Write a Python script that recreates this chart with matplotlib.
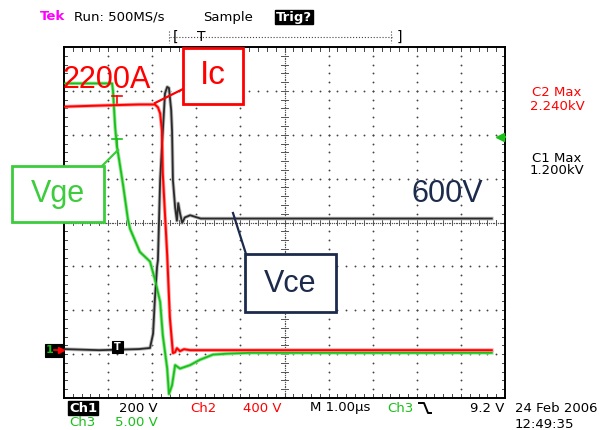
import numpy as np
import matplotlib
matplotlib.use('Agg')
import matplotlib.pyplot as plt
from matplotlib.lines import Line2D
from matplotlib.patches import Rectangle
from matplotlib.transforms import Affine2D

# Scope settings (per division)
vce_scale = 200.0   # Ch1, V/div
ic_scale = 400.0    # Ch2, V/div
vge_scale = 5.0     # Ch3, V/div
ground_div = 1.09   # common ground marker, divisions from bottom

# Ch1: Vce, time in us (1.00 us/div)
t_vce = [0, 0.8, 1.7, 1.95, 2.02, 2.06, 2.11, 2.13, 2.18, 2.22, 2.29, 2.34, 2.38,
         2.43, 2.45, 2.47, 2.52, 2.56, 2.59, 2.63, 2.68, 2.74, 2.86, 3.1, 9.7]
vce = [5, 0, 5, 10, 75, 230, 380, 410, 775, 925, 1170, 1200, 1195,
       1095, 1000, 775, 650, 590, 670, 625, 580, 605, 615, 600, 600]

# Ch2: Ic (probe output shown in V)
t_ic = [0, 0.8, 1.7, 2.06, 2.13, 2.18, 2.22, 2.24, 2.34, 2.40, 2.47, 2.52,
        2.56, 2.63, 2.72, 2.86, 9.7]
ic = [2220, 2230, 2240, 2240, 2214, 2159, 2004, 1612, 866, 301, -27, -18,
      18, -9, 9, 0, 0]

# Ch3: Vge
t_vge = [0, 1.09, 1.11, 1.16, 1.20, 1.25, 1.34, 1.45, 1.50, 1.72, 1.95, 2.06,
         2.18, 2.24, 2.34, 2.38, 2.45, 2.52, 2.63, 2.86, 3.08, 3.38, 3.70, 4.22, 9.7]
vge = [30.6, 30.6, 29.8, 25.6, 23.4, 21.9, 19.0, 15.1, 14.0, 11.4, 10.3, 8.3,
       5.7, 1.9, -1.9, -4.8, -3.8, -1.5, -1.9, -1.5, -0.9, -0.3, -0.2, -0.1, -0.1]

W, H = 606, 430
fig = plt.figure(figsize=(W / 100, H / 100), dpi=100)
fig.patch.set_facecolor('white')
# pixel coordinates measured from top-left of the image
pix = Affine2D().scale(1 / W, -1 / H).translate(0, 1) + fig.transFigure

L, R, T, B = 64, 505, 47, 398
ax = fig.add_axes([L / W, 1 - B / H, (R - L) / W, (B - T) / H])
ax.set_xlim(0, 10)
ax.set_ylim(0, 8)
ax.set_xticks([])
ax.set_yticks([])
for s in ax.spines.values():
    s.set_linewidth(1.4)
    s.set_color('black')

# graticule: dotted division lines
dots_x, dots_y = [], []
for gx in range(1, 10):
    if gx == 5:
        continue
    for gy in np.arange(0, 8.01, 0.2):
        dots_x.append(gx)
        dots_y.append(gy)
for gy in range(1, 8):
    if gy == 4:
        continue
    for gx in np.arange(0, 10.01, 0.2):
        dots_x.append(gx)
        dots_y.append(gy)
ax.scatter(dots_x, dots_y, s=1.8, color='#444444', lw=0, zorder=1)

# centre cross with fine ticks
cx = np.arange(0, 10.01, 0.04)
cy = np.arange(0, 8.01, 0.04)
ax.scatter(cx, np.full_like(cx, 4), s=0.9, color='#555555', lw=0, zorder=1)
ax.scatter(np.full_like(cy, 5), cy, s=0.9, color='#555555', lw=0, zorder=1)
for gx in np.arange(0.2, 10, 0.2):
    ax.plot([gx, gx], [3.94, 4.06], color='#555555', lw=0.7, zorder=1)
    ax.plot([gx, gx], [0, 0.08], color='#444444', lw=0.7, zorder=1)
    ax.plot([gx, gx], [7.92, 8], color='#444444', lw=0.7, zorder=1)
for gy in np.arange(0.2, 8, 0.2):
    ax.plot([4.93, 5.07], [gy, gy], color='#555555', lw=0.7, zorder=1)
    ax.plot([0, 0.06], [gy, gy], color='#444444', lw=0.7, zorder=1)
    ax.plot([9.94, 10], [gy, gy], color='#444444', lw=0.7, zorder=1)

# traces
vce_div = np.array(vce) / vce_scale + ground_div
ic_div = np.array(ic) / ic_scale + ground_div
vge_div = np.array(vge) / vge_scale + ground_div - 0.04
ax.plot(t_vce, vce_div, color='#bbbbbb', lw=2.6, zorder=2)
ax.plot(t_vce, vce_div, color='#2a2a2a', lw=1.3, zorder=3)
ax.plot(t_vge, vge_div, color='#99e699', lw=2.6, zorder=2)
ax.plot(t_vge, vge_div, color='#18c018', lw=1.3, zorder=4)
ax.plot(t_ic, ic_div, color='#ff9999', lw=2.6, zorder=2)
ax.plot(t_ic, ic_div, color='#ff0000', lw=1.4, zorder=5)

FS = 9.5
fnt = 'DejaVu Sans'

def ptext(x, y, s, color='black', size=FS, ha='left', **kw):
    fig.text(x, y, s, transform=pix, color=color, fontsize=size, ha=ha,
             va='center', family=fnt, zorder=8, **kw)

def pline(xs, ys, color, lw=1.5, **kw):
    fig.add_artist(Line2D(xs, ys, transform=pix, color=color, lw=lw, **kw))

def pbox(x0, y0, x1, y1, edge, lw=2.0, face='white'):
    fig.add_artist(Rectangle((x0, y0), x1 - x0, y1 - y0, transform=pix,
                             facecolor=face, edgecolor=edge, lw=lw, zorder=6))

# header
ptext(40, 17, 'Tek', color='#ff00ff', weight='bold')
ptext(74, 17, 'Run: 500MS/s')
ptext(203, 17, 'Sample')
ptext(276, 17, 'Trig?', color='white', weight='bold',
      bbox=dict(facecolor='black', edgecolor='black', pad=0.6))
pline([170, 392], [37, 37], '#444444', lw=0.8, ls=':')
pline([169, 169], [31, 43], '#444444', lw=0.8, ls=':')
pline([391, 391], [31, 43], '#444444', lw=0.8, ls=':')
ptext(173, 37, '[', size=10)
ptext(397, 37, ']', size=10)
ptext(201, 37, 'T', size=10, ha='center')

# right readouts
ptext(557, 93, 'C2 Max', color='#ff0000', ha='center')
ptext(557, 106, '2.240kV', color='#ff0000', ha='center')
ptext(557, 158, 'C1 Max', ha='center')
ptext(557, 171, '1.200kV', ha='center')
fig.add_artist(Line2D([500], [137], transform=pix, marker='<', ms=6,
                      color='#18c018', lw=0))
pline([499, 505], [137, 137], '#18c018', lw=1.5)

# bottom readouts
ptext(69, 408, 'Ch1', color='white', weight='bold',
      bbox=dict(facecolor='black', edgecolor='black', pad=0.6))
ptext(119, 408, '200 V')
ptext(190, 408, 'Ch2', color='#ff0000')
ptext(243, 408, '400 V', color='#ff0000')
ptext(310, 408, 'M 1.00\u00b5s')
ptext(387, 408, 'Ch3', color='#18c018')
pline([419, 424, 428, 431], [403, 403, 413, 413], 'black', lw=1.4)
ptext(504, 408, '9.2 V', ha='right')
ptext(69, 423, 'Ch3', color='#18c018')
ptext(115, 423, '5.00 V', color='#18c018')
ptext(515, 409, '24 Feb 2006')
ptext(515, 425, '12:49:35')

# ground / trigger markers
pbox(45, 344, 63, 357, 'black', lw=0.8, face='black')
ptext(50, 350, '1', color='#18c018', size=8, ha='center', weight='bold')
pline([54, 61], [350, 350], '#ff0000', lw=1.2, zorder=8)
fig.add_artist(Line2D([61], [350], transform=pix, marker='>', ms=4,
                      color='#ff0000', lw=0, zorder=8))
pbox(112, 341, 123, 353, 'black', lw=0.8, face='black')
ptext(117.5, 347, 'T', color='white', size=7, ha='center', weight='bold')
pline([112, 122], [96, 96], '#ff0000', lw=1.2)
pline([117, 117], [96, 103], '#ff0000', lw=1.2)
pline([112, 122], [139, 139], '#18c018', lw=1.2)
pline([117, 117], [139, 146], '#18c018', lw=1.2)

# annotations
navy = '#1c2a4c'
agreen = '#3ccc3c'
fig.text(62, 80, '2200A', transform=pix, color='#ff0000', fontsize=22,
         family='Liberation Sans', va='center', ha='left')
fig.text(447, 194, '600V', transform=pix, color=navy, fontsize=22,
         family='Liberation Sans', va='center', ha='center')

pline([155, 183], [103, 89], '#ff0000', lw=1.6)
pbox(183, 48, 243, 104, '#ff0000')
fig.text(213, 76, 'Ic', transform=pix, color='#ff0000', fontsize=24,
         family='Liberation Sans', va='center', ha='center', zorder=7)

pline([102, 118], [166, 150], agreen, lw=1.6)
pbox(12, 166, 104, 222, agreen)
fig.text(58, 194, 'Vge', transform=pix, color=agreen, fontsize=22,
         family='Liberation Sans', va='center', ha='center', zorder=7)

pline([246, 233], [254, 213], navy, lw=1.6)
pbox(245, 254, 336, 312, navy)
fig.text(290, 284, 'Vce', transform=pix, color=navy, fontsize=22,
         family='Liberation Sans', va='center', ha='center', zorder=7)

fig.savefig('out.png', dpi=100)
plt.close(fig)
